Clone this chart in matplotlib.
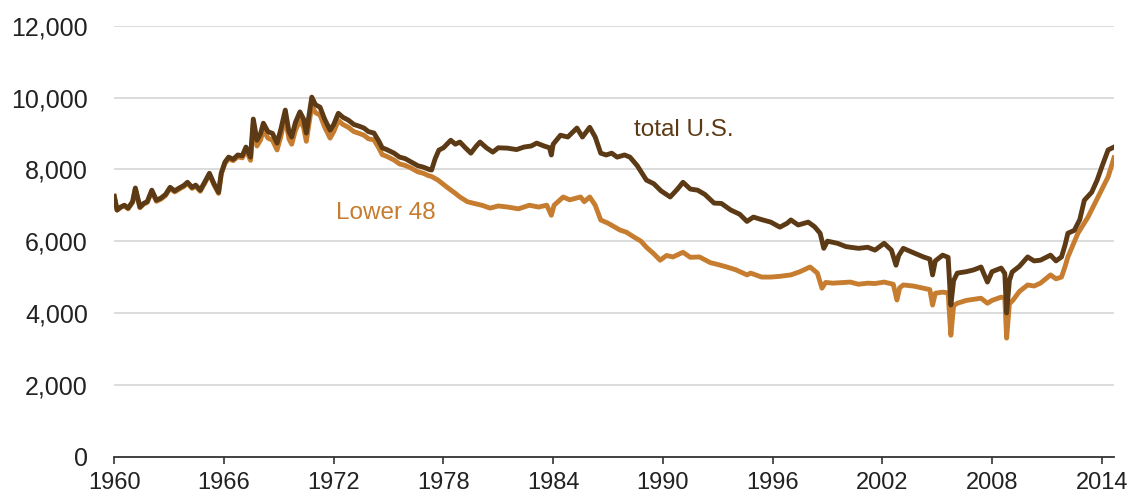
import matplotlib.pyplot as plt

# total U.S. crude oil production (thousand barrels per day)
total_years = [1960.00, 1960.15, 1960.35, 1960.55, 1960.75, 1961.00, 1961.15, 1961.40, 1961.60, 1961.80,
               1962.05, 1962.30, 1962.55, 1962.80, 1963.05, 1963.30, 1963.55, 1963.80, 1964.00, 1964.25,
               1964.45, 1964.70, 1964.95, 1965.20, 1965.45, 1965.70, 1965.85, 1966.05, 1966.25, 1966.50,
               1966.75, 1967.00, 1967.20, 1967.45, 1967.60, 1967.80, 1968.00, 1968.15, 1968.40, 1968.65,
               1968.90, 1969.10, 1969.35, 1969.55, 1969.70, 1969.90, 1970.15, 1970.35, 1970.50, 1970.65,
               1970.80, 1971.00, 1971.25, 1971.50, 1971.80, 1972.00, 1972.25, 1972.50, 1972.80, 1973.10,
               1973.40, 1973.65, 1973.90, 1974.20, 1974.45, 1974.65, 1974.90, 1975.30, 1975.60, 1975.90,
               1976.25, 1976.60, 1976.90, 1977.20, 1977.35, 1977.55, 1977.75, 1978.00, 1978.40, 1978.65,
               1978.90, 1979.20, 1979.50, 1979.80, 1980.00, 1980.35, 1980.70, 1981.00, 1981.50, 1982.00,
               1982.40, 1982.80, 1983.10, 1983.50, 1983.80, 1983.90, 1984.00, 1984.40, 1984.80, 1985.30,
               1985.60, 1986.00, 1986.30, 1986.60, 1986.90, 1987.20, 1987.50, 1987.90, 1988.20, 1988.60,
               1989.10, 1989.50, 1989.90, 1990.40, 1990.80, 1991.10, 1991.50, 1991.90, 1992.30, 1992.80,
               1993.20, 1993.70, 1994.20, 1994.60, 1994.95, 1995.40, 1995.90, 1996.40, 1996.80, 1997.00,
               1997.40, 1997.95, 1998.30, 1998.60, 1998.80, 1999.00, 1999.55, 2000.00, 2000.25, 2000.70,
               2001.20, 2001.60, 2002.10, 2002.50, 2002.75, 2002.90, 2003.15, 2003.60, 2004.25, 2004.60,
               2004.75, 2004.90, 2005.30, 2005.60, 2005.75, 2005.90, 2006.10, 2006.60, 2007.00, 2007.40,
               2007.75, 2008.00, 2008.50, 2008.70, 2008.80, 2008.95, 2009.10, 2009.50, 2009.95, 2010.30,
               2010.65, 2011.20, 2011.50, 2011.80, 2012.00, 2012.15, 2012.50, 2012.80, 2013.05, 2013.45,
               2013.75, 2014.00, 2014.35, 2014.67]
total_vals = [7250, 6870, 6950, 7000, 6920, 7100, 7480, 6950, 7050, 7100,
              7420, 7140, 7200, 7300, 7500, 7400, 7480, 7550, 7640, 7500,
              7560, 7420, 7650, 7890, 7600, 7360, 7900, 8200, 8340, 8280,
              8400, 8380, 8620, 8340, 9400, 8810, 9000, 9285, 9050, 9000,
              8730, 9100, 9650, 9050, 8900, 9300, 9600, 9400, 9010, 9500,
              10010, 9800, 9730, 9400, 9090, 9250, 9560, 9450, 9370, 9250,
              9200, 9150, 9050, 9010, 8800, 8600, 8550, 8450, 8340, 8300,
              8200, 8100, 8060, 8000, 7980, 8300, 8535, 8600, 8810, 8700,
              8760, 8600, 8450, 8650, 8760, 8600, 8480, 8600, 8590, 8550,
              8620, 8650, 8730, 8650, 8600, 8400, 8700, 8950, 8900, 9150,
              8900, 9170, 8900, 8450, 8400, 8450, 8340, 8400, 8340, 8100,
              7700, 7600, 7400, 7230, 7450, 7640, 7450, 7420, 7300, 7060,
              7050, 6870, 6750, 6550, 6670, 6600, 6530, 6390, 6500, 6590,
              6450, 6530, 6400, 6220, 5800, 6000, 5940, 5850, 5830, 5800,
              5830, 5750, 5940, 5750, 5330, 5600, 5800, 5700, 5560, 5500,
              5060, 5450, 5610, 5550, 4220, 4900, 5110, 5150, 5200, 5280,
              4860, 5150, 5250, 5100, 4000, 4900, 5140, 5300, 5560, 5450,
              5470, 5610, 5450, 5560, 5900, 6220, 6300, 6600, 7140, 7360,
              7700, 8060, 8540, 8620]

# Lower 48 production
l48_years = [1960.00, 1960.15, 1960.35, 1960.55, 1960.75, 1961.00, 1961.15, 1961.40, 1961.60, 1961.80,
             1962.05, 1962.30, 1962.55, 1962.80, 1963.05, 1963.30, 1963.55, 1963.80, 1964.00, 1964.25,
             1964.45, 1964.70, 1964.95, 1965.20, 1965.45, 1965.70, 1965.85, 1966.05, 1966.25, 1966.50,
             1966.75, 1967.00, 1967.20, 1967.45, 1967.60, 1967.80, 1968.00, 1968.15, 1968.40, 1968.65,
             1968.90, 1969.10, 1969.35, 1969.55, 1969.70, 1969.90, 1970.15, 1970.35, 1970.50, 1970.65,
             1970.80, 1971.00, 1971.25, 1971.50, 1971.80, 1972.00, 1972.25, 1972.50, 1972.80, 1973.10,
             1973.40, 1973.65, 1973.90, 1974.20, 1974.45, 1974.65, 1974.90, 1975.30, 1975.60, 1975.90,
             1976.25, 1976.60, 1976.90, 1977.20, 1977.35, 1977.70, 1978.20, 1978.60, 1978.90, 1979.30,
             1979.60, 1980.10, 1980.55, 1981.00, 1981.50, 1982.10, 1982.70, 1983.20, 1983.65, 1983.90,
             1984.05, 1984.55, 1984.90, 1985.50, 1985.70, 1986.00, 1986.30, 1986.60, 1987.00, 1987.65,
             1988.00, 1988.40, 1988.80, 1989.10, 1989.50, 1989.85, 1990.20, 1990.55, 1991.10, 1991.50,
             1992.00, 1992.60, 1993.00, 1993.50, 1994.00, 1994.60, 1994.80, 1995.40, 1995.90, 1996.40,
             1997.00, 1997.50, 1998.05, 1998.45, 1998.70, 1998.90, 1999.30, 2000.25, 2000.70, 2001.20,
             2001.60, 2002.10, 2002.60, 2002.80, 2002.95, 2003.15, 2003.70, 2004.25, 2004.60, 2004.75,
             2004.90, 2005.30, 2005.60, 2005.75, 2005.90, 2006.10, 2006.60, 2007.00, 2007.40, 2007.75,
             2008.00, 2008.50, 2008.70, 2008.80, 2008.95, 2009.15, 2009.50, 2009.95, 2010.30, 2010.65,
             2011.20, 2011.50, 2011.80, 2012.00, 2012.15, 2012.70, 2013.25, 2013.80, 2014.35, 2014.67]
l48_vals = [7240, 6860, 6940, 6990, 6900, 7080, 7460, 6930, 7030, 7080,
            7390, 7110, 7170, 7270, 7470, 7370, 7450, 7520, 7610, 7470,
            7530, 7390, 7620, 7860, 7570, 7330, 7870, 8160, 8300, 8240,
            8350, 8320, 8540, 8250, 9250, 8650, 8820, 9100, 8870, 8810,
            8540, 8900, 9450, 8850, 8700, 9080, 9370, 9170, 8780, 9270,
            9780, 9580, 9510, 9180, 8870, 9050, 9360, 9250, 9170, 9050,
            9000, 8950, 8850, 8820, 8610, 8410, 8360, 8260, 8150, 8110,
            8030, 7930, 7890, 7820, 7800, 7700, 7500, 7350, 7230, 7100,
            7060, 7000, 6920, 6980, 6950, 6900, 7000, 6950, 7000, 6720,
            7000, 7230, 7150, 7230, 7100, 7230, 7000, 6590, 6500, 6310,
            6250, 6120, 6000, 5830, 5650, 5470, 5600, 5560, 5690, 5550,
            5560, 5400, 5350, 5280, 5200, 5060, 5110, 5000, 5000, 5020,
            5060, 5150, 5280, 5110, 4690, 4850, 4830, 4860, 4800, 4830,
            4820, 4860, 4800, 4360, 4700, 4780, 4750, 4690, 4650, 4220,
            4550, 4580, 4560, 3380, 4200, 4270, 4350, 4380, 4410, 4270,
            4350, 4440, 4420, 3300, 4250, 4360, 4600, 4780, 4750, 4830,
            5060, 4950, 5000, 5300, 5560, 6220, 6670, 7230, 7790, 8320]

tick_years = [1960, 1966, 1972, 1978, 1984, 1990, 1996, 2002, 2008, 2014]
y_ticks = [0, 2000, 4000, 6000, 8000, 10000, 12000]

dark = "#5C3A15"
orange = "#C67D2F"

plt.rcParams['font.family'] = ['Liberation Sans', 'DejaVu Sans']
fig = plt.figure(figsize=(11.33, 5), dpi=100)
ax = fig.add_axes([0.1009, 0.0868, 0.8823, 0.8618])

ax.plot(l48_years, l48_vals, color=orange, linewidth=3.5, solid_joinstyle='round', zorder=3)
ax.plot(total_years, total_vals, color=dark, linewidth=3.5, solid_joinstyle='round', zorder=4)

ax.set_xlim(1960, 2014.67)
ax.set_ylim(0, 12000)
ax.set_xticks(tick_years)
ax.set_yticks(y_ticks)
ax.set_yticklabels([f"{v:,}" for v in y_ticks])

# horizontal grid only
for v in y_ticks[1:]:
    ax.axhline(v, color="#d9d9d9", linewidth=1.3, zorder=1)

for s in ["top", "right", "left"]:
    ax.spines[s].set_visible(False)
ax.spines["bottom"].set_color("#333333")
ax.spines["bottom"].set_linewidth(1.3)

ax.tick_params(axis="y", length=0, pad=19, labelsize=18, labelcolor="#222222")
ax.tick_params(axis="x", direction="out", length=5, width=1.2, color="#333333",
               pad=6, labelsize=17, labelcolor="#222222")

ax.text(1988.4, 9090, "total U.S.", color=dark, fontsize=17.5, va="center", ha="left")
ax.text(1972.1, 6780, "Lower 48", color=orange, fontsize=17.5, va="center", ha="left")

plt.savefig("out.png", dpi=100)
